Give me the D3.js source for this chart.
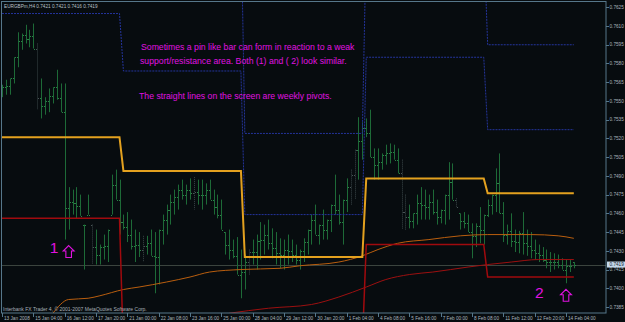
<!DOCTYPE html>
<html>
<head>
<meta charset="utf-8">
<script src="https://cdn.jsdelivr.net/npm/d3@7"></script>
<style>
  body { margin: 0; background: #070c0f; }
  svg { display: block; }
  text { font-family: "Liberation Sans", Arial, sans-serif; }
</style>
</head>
<body>
<div id="chart"></div>
<script>
const W = 625, H = 322;

// EURGBP H4 bars, prices in pips (x 10000), bar 0 = 13 Jan 2008 20:00
const barHigh = [7563,7567,7568,7585,7605,7604,7611,7607,7612,7596,7568,7553,7560,7561,7575,7564,7564,7481,7479,7481,
  7475,7451,7475,7451,7447,7435,7443,7447,7491,7495,7487,7459,7461,7455,7447,7445,7442,7442,7447,7445,
  7447,7459,7467,7475,7479,7483,7487,7483,7488,7489,7487,7487,7484,7487,7479,7475,7471,7445,7447,7439,
  7441,7431,7427,7431,7439,7443,7453,7451,7455,7448,7445,7440,7439,7443,7439,7435,7431,7440,7447,7459,
  7467,7451,7463,7455,7467,7491,7475,7471,7488,7495,7511,7537,7533,7536,7543,7512,7512,7508,7515,7516,
  7515,7512,7503,7475,7467,7460,7475,7481,7479,7475,7479,7471,7463,7475,7501,7500,7472,7460,7461,7459,
  7452,7452,7465,7459,7471,7475,7496,7508,7469,7451,7460,7447,7446,7461,7447,7445,7439,7435,7433,7431,
  7429,7428,7427,7424,7423,7423,7421];
const barLow = [7553,7555,7555,7564,7577,7591,7596,7593,7592,7543,7536,7539,7541,7548,7551,7541,7439,7447,7459,7456,
  7458,7415,7459,7419,7419,7419,7423,7421,7459,7471,7443,7447,7437,7431,7421,7425,7421,7427,7426,7396,
  7403,7435,7443,7451,7459,7463,7471,7467,7471,7463,7467,7463,7467,7471,7459,7456,7447,7427,7423,7424,
  7411,7392,7399,7411,7419,7415,7423,7427,7431,7424,7419,7416,7415,7419,7421,7419,7415,7421,7427,7435,
  7443,7435,7439,7439,7445,7459,7451,7435,7461,7467,7471,7487,7503,7521,7505,7487,7487,7495,7499,7500,
  7503,7492,7447,7447,7448,7448,7451,7455,7455,7455,7459,7451,7452,7451,7455,7471,7465,7447,7448,7445,
  7424,7433,7436,7435,7457,7459,7461,7460,7437,7435,7433,7429,7428,7427,7426,7424,7423,7421,7421,7416,
  7413,7415,7416,7415,7404,7413,7416];
const barOpen = [7556,7561,7562,7568,7585,7598,7603,7600,7602,7592,7552,7546,7550,7554,7561,7552,7541,7464,7469,7468,
  7466,7451,7459,7451,7433,7427,7433,7434,7459,7483,7471,7453,7449,7443,7434,7435,7431,7434,7436,7426,
  7425,7447,7455,7463,7469,7473,7479,7475,7479,7476,7477,7475,7475,7479,7471,7465,7459,7445,7435,7431,
  7426,7411,7413,7421,7429,7429,7438,7439,7443,7436,7432,7428,7427,7431,7430,7427,7423,7430,7437,7447,
  7455,7443,7451,7447,7455,7467,7463,7453,7471,7481,7491,7511,7518,7528,7524,7505,7499,7501,7507,7508,
  7509,7503,7492,7461,7457,7454,7460,7468,7467,7465,7469,7461,7457,7463,7475,7485,7471,7460,7454,7452,
  7445,7442,7450,7447,7459,7467,7475,7484,7460,7443,7446,7438,7437,7444,7436,7434,7431,7428,7427,7423,
  7421,7421,7421,7419,7415,7418,7421];
const barClose = [7561,7562,7568,7585,7598,7603,7600,7602,7592,7552,7546,7550,7554,7561,7552,7541,7464,7469,7468,7466,
  7458,7451,7459,7433,7427,7433,7434,7447,7483,7471,7453,7449,7443,7434,7435,7431,7434,7436,7426,7425,
  7447,7455,7463,7469,7473,7479,7475,7479,7476,7477,7475,7475,7479,7471,7465,7459,7447,7435,7431,7426,
  7411,7413,7421,7429,7429,7438,7439,7443,7436,7432,7428,7427,7431,7430,7427,7423,7430,7437,7447,7455,
  7443,7451,7447,7455,7467,7463,7453,7471,7481,7491,7511,7518,7528,7524,7505,7499,7501,7507,7508,7509,
  7503,7492,7461,7457,7454,7460,7468,7467,7465,7469,7461,7457,7463,7475,7485,7471,7465,7454,7452,7445,
  7442,7450,7447,7459,7467,7475,7484,7460,7443,7446,7438,7437,7444,7436,7434,7431,7428,7427,7423,7421,
  7421,7421,7419,7415,7418,7418,7419];
const grayBars = [9, 23, 36, 49, 63, 89, 90, 102, 103, 116];

// weekly pivot levels (one value per week)
const weekStart = [0, 31, 62, 93, 124];
const weekEnd = [30, 61, 92, 123, 146];
const pivotP  = [0.7521, 0.7494, 0.7425, 0.7488, 0.7476];
const pivotR1 = [0.7620, 0.7574, 0.7459, 0.7585, 0.7527];
const pivotR2 = [0.7690, 0.7700, 0.7524, 0.7680, 0.7595];
const pivotS1 = [0.7456, 0.7350, 0.7355, 0.7435, 0.7409];

// moving averages, read at sample bars (pips)
const maOrangeBar = [13, 17, 22, 25, 31, 35, 42, 48, 53, 61, 71, 76, 86, 92, 96, 101, 109, 117, 124, 135, 142, 146];
const maOrangeVal = [7380,7391,7392,7394,7399,7401,7405,7409,7413,7415,7416,7418,7421,7426,7431,7436,7439,7442,7443,7443,7442,7440];
const maRedBar = [58, 68, 79, 86, 93, 98, 104, 110, 119, 124, 130, 137, 146];
const maRedVal = [7380,7384,7387,7393,7401,7407,7411,7413,7417,7419,7421,7423,7423];

const priceTicks = d3.range(0, 17).map(k => 0.7385 + k * 0.0015);
const lastPrice = 0.7419;
const timeLabels = ["13 Jan 2008","15 Jan 04:00","16 Jan 12:00","17 Jan 20:00","21 Jan 00:00","22 Jan 08:00",
  "23 Jan 16:00","25 Jan 00:00","28 Jan 04:00","29 Jan 12:00","30 Jan 20:00","1 Feb 04:00","4 Feb 08:00",
  "5 Feb 16:00","7 Feb 00:00","8 Feb 08:00","11 Feb 12:00","12 Feb 20:00","14 Feb 04:00"];
const pinBars = [{label: "1", bar: 16}, {label: "2", bar: 144}];

const plot = { left: 2, right: 606, top: 2, bottom: 313 };
const smallFont = 4.7;

const svg = d3.select("#chart").append("svg")
  .attr("width", W).attr("height", H)
  .style("background", "#070c0f");

const x = d3.scaleLinear().domain([0, 144]).range([2, 566]);
const y = d3.scaleLinear().domain([0.7385, 0.7625]).range([307, 7.3]);
const px = v => y(v / 10000);

svg.append("clipPath").attr("id", "clip")
  .append("rect")
  .attr("x", plot.left).attr("y", plot.top)
  .attr("width", plot.right - plot.left).attr("height", plot.bottom - plot.top);

const g = svg.append("g").attr("clip-path", "url(#clip)");

// current price line
g.append("line")
  .attr("x1", plot.left).attr("x2", plot.right)
  .attr("y1", Math.round(y(lastPrice)) + 0.5).attr("y2", Math.round(y(lastPrice)) + 0.5)
  .attr("stroke", "#3b443e").attr("stroke-width", 1);

// bars
const bars = barHigh.map((h, i) => ({ i, h, l: barLow[i], o: barOpen[i], c: barClose[i] }));
const barColor = d => grayBars.includes(d.i) ? "#3a4648" : "#1d6a37";
const barG = g.append("g");
barG.selectAll(".bar")
  .data(bars)
  .join("line")
  .attr("class", "bar")
  .attr("x1", d => Math.round(x(d.i)) + 0.5)
  .attr("x2", d => Math.round(x(d.i)) + 0.5)
  .attr("y1", d => px(d.h))
  .attr("y2", d => px(d.l))
  .attr("stroke", barColor)
  .attr("stroke-dasharray", d => grayBars.includes(d.i) ? "1,1" : null)
  .attr("stroke-width", 1);
barG.selectAll(".open")
  .data(bars)
  .join("rect")
  .attr("class", "open")
  .attr("x", d => Math.round(x(d.i)) - 1)
  .attr("y", d => Math.round(px(d.o)))
  .attr("width", 1).attr("height", 1)
  .attr("fill", d => grayBars.includes(d.i) ? "#4a5658" : "#2a8446");
barG.selectAll(".close")
  .data(bars)
  .join("rect")
  .attr("class", "close")
  .attr("x", d => Math.round(x(d.i)) + 1)
  .attr("y", d => Math.round(px(d.c)))
  .attr("width", 1).attr("height", 1)
  .attr("fill", d => grayBars.includes(d.i) ? "#4a5658" : "#2a8446");

// moving averages
const maLine = d3.line().x(d => x(d[0])).y(d => px(d[1])).curve(d3.curveMonotoneX);
g.append("path")
  .attr("d", maLine(maOrangeBar.map((b, k) => [b, maOrangeVal[k]])))
  .attr("fill", "none").attr("stroke", "#b95e0e").attr("stroke-width", 1);
g.append("path")
  .attr("d", maLine(maRedBar.map((b, k) => [b, maRedVal[k]])))
  .attr("fill", "none").attr("stroke", "#9c1010").attr("stroke-width", 1);

// weekly pivots
function pivotPoints(levels) {
  const pts = [];
  levels.forEach((v, w) => {
    pts.push([weekStart[w], v]);
    pts.push([weekEnd[w], v]);
  });
  return pts;
}
const pivLine = d3.line().x(d => x(d[0])).y(d => y(d[1]));
[[pivotR2, "#24349c", 1, "2,1"], [pivotR1, "#24349c", 1, "2,1"],
 [pivotS1, "#a00a0e", 1.5, null], [pivotP, "#e3a11f", 2, null]].forEach(([lv, col, sw, dash]) => {
  g.append("path")
    .attr("d", pivLine(pivotPoints(lv)))
    .attr("fill", "none").attr("stroke", col).attr("stroke-width", sw)
    .attr("stroke-dasharray", dash);
});

// frame
svg.append("rect")
  .attr("x", 1.5).attr("y", 1.5)
  .attr("width", plot.right - 1.5).attr("height", plot.bottom - 1.5)
  .attr("fill", "none").attr("stroke", "#56778a").attr("stroke-width", 1);

// right price axis
const yAxis = svg.append("g");
yAxis.selectAll("line")
  .data(priceTicks)
  .join("line")
  .attr("x1", plot.right).attr("x2", plot.right + 3)
  .attr("y1", d => Math.round(y(d)) + 0.5).attr("y2", d => Math.round(y(d)) + 0.5)
  .attr("stroke", "#56778a");
yAxis.selectAll("text")
  .data(priceTicks)
  .join("text")
  .attr("x", 609.5).attr("y", d => y(d) + 1.7)
  .attr("font-size", smallFont).attr("fill", "#aab4bc")
  .text(d => d.toFixed(4));

// current price tag
svg.append("rect")
  .attr("x", 607).attr("y", y(lastPrice) - 3)
  .attr("width", 18).attr("height", 6)
  .attr("fill", "#c4d8ea");
svg.append("text")
  .attr("x", 609.5).attr("y", y(lastPrice) + 1.7)
  .attr("font-size", smallFont).attr("fill", "#1a2630")
  .text(lastPrice.toFixed(4));

// time axis
const xAxis = svg.append("g");
xAxis.selectAll("line")
  .data(timeLabels)
  .join("line")
  .attr("x1", (d, k) => Math.round(x(k * 8)) + 0.5).attr("x2", (d, k) => Math.round(x(k * 8)) + 0.5)
  .attr("y1", plot.bottom).attr("y2", plot.bottom + 4)
  .attr("stroke", "#56778a");
xAxis.selectAll("text")
  .data(timeLabels)
  .join("text")
  .attr("x", (d, k) => x(k * 8) + 2).attr("y", 320)
  .attr("font-size", smallFont).attr("fill", "#aab4bc")
  .text(d => d);

// header and footer text
svg.append("text")
  .attr("x", 4).attr("y", 7.5)
  .attr("font-size", smallFont).attr("fill", "#b8c0c8")
  .text("EURGBPm,H4  0.7421 0.7421 0.7416 0.7419");
svg.append("text")
  .attr("x", 3).attr("y", 311)
  .attr("font-size", 5).attr("fill", "#a8b0b8")
  .text("Interbank FX Trader 4, © 2001-2007 MetaQuotes Software Corp.");

// annotations
const magenta = "#e012e0";
const notes = [
  { t: "Sometimes a pin like bar can form in reaction to a weak", x: 141, y: 50 },
  { t: "support/resistance area. Both (1) and ( 2) look similar.", x: 140, y: 64 },
  { t: "The straight lines on the screen are weekly pivots.", x: 139, y: 99 }
];
svg.selectAll(".note")
  .data(notes)
  .join("text")
  .attr("class", "note")
  .attr("x", d => d.x).attr("y", d => d.y)
  .attr("font-size", 8.7).attr("fill", magenta)
  .text(d => d.t);

const arrowPath = "M0,0 L5.5,5.5 L2.8,5.5 L2.8,12 L-2.8,12 L-2.8,5.5 L-5.5,5.5 Z";
pinBars.forEach((p, k) => {
  const ax = x(p.bar) + (k === 0 ? 4 : 0);
  const ay = px(barLow[p.bar]) + 6;
  svg.append("path")
    .attr("d", arrowPath)
    .attr("transform", `translate(${ax},${ay})`)
    .attr("fill", "none").attr("stroke", magenta).attr("stroke-width", 1.1);
  svg.append("text")
    .attr("x", ax - (k === 0 ? 19 : 31)).attr("y", ay + (k === 0 ? 7 : 9))
    .attr("font-size", 15.5).attr("fill", magenta)
    .text(p.label);
});
</script>
</body>
</html>
